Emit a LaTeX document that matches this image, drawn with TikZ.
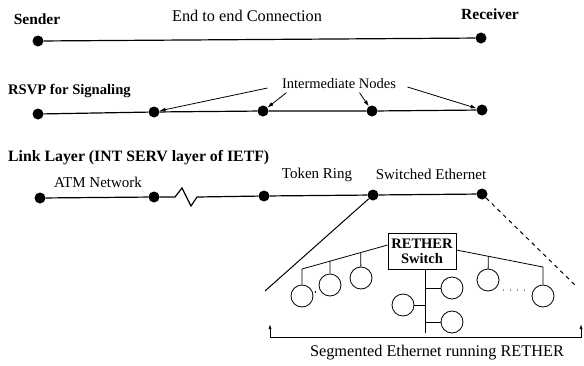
\documentclass[tikz,border=0pt]{standalone}
\usepackage{fontspec}
\setmainfont{Liberation Serif}
\usepackage{tikz}
\usetikzlibrary{arrows.meta,positioning,calc}

\begin{document}
\begin{tikzpicture}[
  x=1pt, y=-1pt,
  font=\fontsize{16.3}{18}\selectfont,
  hdr/.style={font=\fontsize{15.5}{17}\selectfont\bfseries},
  lbl/.style={font=\fontsize{15}{16}\selectfont},
  dot/.style={circle, fill, inner sep=0pt, minimum size=11pt},
  host/.style={circle, draw, line width=0.8pt, inner sep=0pt, minimum size=22pt},
  swbox/.style={draw, line width=0.8pt, align=center, inner sep=2pt, minimum width=68pt, minimum height=36pt,
    font=\fontsize{14.5}{15}\selectfont\bfseries},
  link/.style={line width=1.2pt},
  tree/.style={line width=0.8pt},
  arr/.style={-{Latex[length=6pt,width=4pt]}, line width=0.8pt}
]
  \useasboundingbox (0,0) rectangle (584,365);

  \node[hdr] (snd) at (37,19) {Sender};
  \node (e2e) at (247,16) {End to end Connection};
  \node[hdr] (rcv) at (490,14) {Receiver};
  \node[dot] (s1) at (38,41) {};
  \node[dot] (r1) at (481,38) {};
  \draw[link] (s1) -- (r1);

  \node[hdr, font=\fontsize{14.6}{16}\selectfont\bfseries, anchor=west, inner sep=0pt] (rsvp) at (8,91) {RSVP for Signaling};
  \node[lbl, font=\fontsize{14.5}{16}\selectfont] (mid) at (339,84) {Intermediate Nodes};
  \node[dot] (a1) at (38,114) {};
  \node[dot] (a2) at (154,112) {};
  \node[dot] (a3) at (263,111) {};
  \node[dot] (a4) at (372,111) {};
  \node[dot] (a5) at (482,110) {};
  \draw[link] (a1) -- (a2) -- (a3) -- (a4) -- (a5);
  \draw[arr] ([xshift=-11pt,yshift=-4pt]mid.west) -- (a2);
  \draw[arr] ([xshift=8pt]mid.south west) -- (a3);
  \draw[arr] ([xshift=-40pt]mid.south east) -- (a4);
  \draw[arr] ([xshift=8pt,yshift=-3pt]mid.east) -- (a5);

  \node[hdr, font=\fontsize{15.8}{17}\selectfont\bfseries, anchor=west, inner sep=0pt] (llyr) at (8,158) {Link Layer (INT SERV layer of IETF)};
  \node[lbl] (atm) at (98,182) {ATM Network};
  \node[lbl] (tok) at (317,175) {Token Ring};
  \node[lbl] (swe) at (431,174) {Switched Ethernet};
  \node[dot] (b1) at (40,198) {};
  \node[dot] (b2) at (154,197) {};
  \node[dot] (b3) at (264,196) {};
  \node[dot] (b4) at (373,195) {};
  \node[dot] (b5) at (482,194) {};
  \draw[link] (b1) -- (b2) -- ++(21,0) -- ++(7,-9) -- ++(9,18) -- ++(6,-9) -- (b3) -- (b4) -- (b5);

  \coordinate (segL) at (265,291);
  \coordinate (segR) at (576,286);
  \draw[line width=1pt] (b4) -- (segL);
  \draw[line width=1pt, dash pattern=on 4pt off 4pt] (b5) -- (segR);

  \node[swbox] (sw) at (422,251) {RETHER\\Switch};
  \node[host] (h1) at (302,296) {};
  \node[host] (h2) at (330,285) {};
  \node[host] (h3) at (361,278) {};
  \node[host] (h4) at (403,305) {};
  \node[host] (h5) at (452,288) {};
  \node[host] (h6) at (452,322) {};
  \node[host] (h7) at (488,280) {};
  \node[host] (h8) at (543,296) {};

  \coordinate (lt) at (302,269);
  \coordinate (rt) at (543,267);
  \coordinate (swL) at ([yshift=6pt]sw.west);
  \coordinate (swR) at ([yshift=1pt]sw.east);
  \coordinate (swB) at ([xshift=3pt]sw.south);
  \coordinate (vb) at (425,333);
  \draw[tree] (swL) -- (lt) -- (h1);
  \draw[tree] (h2) -- ($(lt)!0.326!(swL)$);
  \draw[tree] (h3) -- ($(lt)!0.686!(swL)$);
  \draw[tree] (swR) -- (rt) -- (h8);
  \draw[tree] (h7) -- ($(swR)!0.368!(rt)$);
  \draw[tree] (swB) -- (vb);
  \draw[tree] (h4) -- (h4 -| vb);
  \draw[tree] (h5) -- (h5 -| vb);
  \draw[tree] (h6) -- (h6 -| vb);
  \draw[line width=1.3pt, dash pattern=on 1pt off 1.5pt] ($(h1.east)+(2,-4)$) -- ($(h2.west)+(-1,7)$);
  \draw[line width=1.2pt, dash pattern=on 0pt off 7pt, line cap=round] ($(h7.east)+(4,10)$) -- ($(h8.west)+(-4,-6)$);

  \coordinate (bL) at (270,337);
  \coordinate (bR) at (581,337);
  \node (seg) at (437,353) {Segmented Ethernet running RETHER};
  \draw[{Latex[length=5pt,width=3pt]}-{Latex[length=5pt,width=3pt]}, line width=0.8pt]
    ([yshift=13pt]bL) -- (bL) -- (bR) -- ([yshift=13pt]bR);
\end{tikzpicture}
\end{document}
